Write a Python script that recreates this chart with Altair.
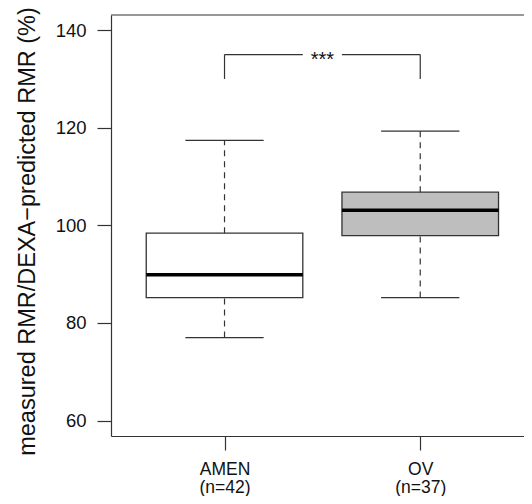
import altair as alt
import pandas as pd

# ---- data ----
groups = ["AMEN", "OV"]
n_values = [42, 37]
positions = [1, 2]
whisker_low = [77.0, 85.2]
q1 = [85.2, 97.9]
median = [89.9, 103.1]
q3 = [98.4, 106.8]
whisker_high = [117.4, 119.3]
box_fill = ["#ffffff", "#bebebe"]

y_ticks = [60, 80, 100, 120, 140]
y_title = "measured RMR/DEXA\u2212predicted RMR (%)"

sig_label = ["***"]
sig_y = [135.0]
sig_leg_bottom = [130.0]
sig_gap = [0.1]

# ---- layout ----
BOX_HALF = 0.4
CAP_HALF = 0.2
W, H = 421, 421
x_scale = alt.Scale(domain=[0.42, 2.571], nice=False, zero=False)
y_scale = alt.Scale(domain=[56.84, 143.1], nice=False, zero=False)
FONT = "Liberation Sans"
DARK = "#333333"

df = pd.DataFrame({
    "group": groups,
    "pos": positions,
    "wlo": whisker_low,
    "q1": q1,
    "med": median,
    "q3": q3,
    "whi": whisker_high,
    "fill": box_fill,
})
df["x_lo"] = df["pos"] - BOX_HALF
df["x_hi"] = df["pos"] + BOX_HALF
df["c_lo"] = df["pos"] - CAP_HALF
df["c_hi"] = df["pos"] + CAP_HALF

parts = []
for p, g, n in zip(positions, groups, n_values):
    parts.append((p, f"['{g}', '(n={n})']"))
label_expr = f"datum.value == {parts[0][0]} ? {parts[0][1]} : {parts[1][1]}"

x_axis = alt.Axis(
    values=positions, labelExpr=label_expr, title="", grid=False,
    tickSize=14, tickColor=DARK, domainColor=DARK, tickWidth=1.2, domainWidth=1.2,
    labelFont=FONT, labelFontSize=17.5, labelColor="#111111", labelPadding=10,
    labelLineHeight=18, labelBaseline="top",
)
y_axis = alt.Axis(
    values=y_ticks, title=y_title, grid=False,
    tickSize=14, tickColor=DARK, domainColor=DARK, tickWidth=1.2, domainWidth=1.2,
    labelFont=FONT, labelFontSize=18.5, labelColor="#111111", labelPadding=11,
    titleFont=FONT, titleFontSize=23.5, titleFontWeight="normal", titleColor="#111111",
    titleAngle=270, titleX=-77, titleY=216, titleAlign="center", titleBaseline="alphabetic",
)


def X(field):
    return alt.X(field, type="quantitative", scale=x_scale, axis=x_axis)


def Y(field):
    return alt.Y(field, type="quantitative", scale=y_scale, axis=y_axis)


base = alt.Chart(df)

boxes = base.mark_rect(stroke=DARK, strokeWidth=1.3).encode(
    x=X("x_lo"), x2="x_hi", y=Y("q1"), y2="q3",
    fill=alt.Fill("fill:N", scale=None),
)
medians = base.mark_rule(color="#000000", strokeWidth=3.5).encode(
    x=X("x_lo"), x2="x_hi", y=Y("med"),
)
whisk_up = base.mark_rule(color=DARK, strokeWidth=1.2, strokeDash=[6, 5]).encode(
    x=X("pos"), y=Y("q3"), y2="whi",
)
whisk_dn = base.mark_rule(color=DARK, strokeWidth=1.2, strokeDash=[6, 5]).encode(
    x=X("pos"), y=Y("wlo"), y2="q1",
)
cap_hi = base.mark_rule(color=DARK, strokeWidth=1.3).encode(
    x=X("c_lo"), x2="c_hi", y=Y("whi"),
)
cap_lo = base.mark_rule(color=DARK, strokeWidth=1.3).encode(
    x=X("c_lo"), x2="c_hi", y=Y("wlo"),
)

# significance bracket
mid = (positions[0] + positions[1]) / 2
br_h = pd.DataFrame({
    "x": [positions[0], mid + sig_gap[0]],
    "x2": [mid - sig_gap[0], positions[1]],
    "y": [sig_y[0], sig_y[0]],
})
br_v = pd.DataFrame({
    "x": positions,
    "y": [sig_leg_bottom[0]] * 2,
    "y2": [sig_y[0]] * 2,
})
br_t = pd.DataFrame({"x": [mid], "y": sig_y, "label": sig_label})

bracket_h = alt.Chart(br_h).mark_rule(color=DARK, strokeWidth=1.2).encode(
    x=X("x"), x2="x2", y=Y("y"),
)
bracket_v = alt.Chart(br_v).mark_rule(color=DARK, strokeWidth=1.2).encode(
    x=X("x"), y=Y("y"), y2="y2",
)
bracket_t = alt.Chart(br_t).mark_text(
    font=FONT, fontSize=20, color="#111111", baseline="alphabetic", dy=11
).encode(
    x=X("x"), y=Y("y"), text="label:N",
)

top_frame = alt.Chart(br_t).mark_rule(color=DARK, strokeWidth=1.2).encode(
    x=alt.value(0), x2=alt.value(W), y=alt.value(0)
)

chart = alt.layer(
    boxes, whisk_up, whisk_dn, cap_hi, cap_lo, medians,
    bracket_h, bracket_v, bracket_t, top_frame,
).properties(
    width=W, height=H,
    autosize=alt.AutoSizeParams(type="none"),
    padding={"left": 103, "top": 7, "right": -8, "bottom": 60},
    background="white",
).configure_view(stroke=None)

chart.save("out.html", embed_options={"renderer": "svg", "actions": False})
